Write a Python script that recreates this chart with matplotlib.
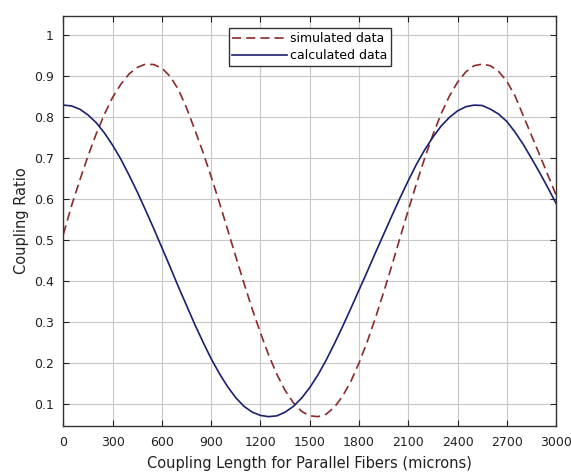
import matplotlib
matplotlib.use("Agg")
import matplotlib.pyplot as plt

plt.rcParams['font.family'] = ['DejaVu Sans']

length_um = list(range(0, 3001, 50))

simulated = [0.515, 0.585, 0.647, 0.706, 0.760, 0.808, 0.849, 0.881, 0.906, 0.922,
             0.930, 0.929, 0.920, 0.900, 0.868, 0.823, 0.770, 0.715, 0.655, 0.592,
             0.526, 0.460, 0.395, 0.332, 0.274, 0.220, 0.173, 0.134, 0.104, 0.083,
             0.072, 0.070, 0.076, 0.093, 0.120, 0.156, 0.201, 0.253, 0.311, 0.374,
             0.439, 0.507, 0.574, 0.639, 0.701, 0.758, 0.809, 0.852, 0.886, 0.911,
             0.926, 0.930, 0.926, 0.912, 0.888, 0.852, 0.804, 0.756, 0.708, 0.659,
             0.610]

calculated = [0.830, 0.828, 0.820, 0.806, 0.787, 0.762, 0.732, 0.698, 0.659, 0.618,
              0.574, 0.529, 0.482, 0.435, 0.387, 0.341, 0.295, 0.252, 0.211, 0.175,
              0.143, 0.116, 0.095, 0.081, 0.073, 0.070, 0.072, 0.081, 0.095, 0.115,
              0.141, 0.172, 0.208, 0.248, 0.290, 0.334, 0.379, 0.424, 0.470, 0.515,
              0.560, 0.604, 0.646, 0.686, 0.721, 0.752, 0.779, 0.800, 0.816, 0.826,
              0.830, 0.829, 0.820, 0.808, 0.790, 0.764, 0.734, 0.700, 0.665, 0.628,
              0.590]

x_ticks = list(range(0, 3001, 300))
y_ticks = [0.1, 0.2, 0.3, 0.4, 0.5, 0.6, 0.7, 0.8, 0.9, 1.0]
y_tick_labels = ["0.1", "0.2", "0.3", "0.4", "0.5", "0.6", "0.7", "0.8", "0.9", "1"]

fig = plt.figure(figsize=(5.71, 4.75), dpi=100)
ax = fig.add_axes([0.111, 0.103, 0.863, 0.863])

ax.plot(length_um, simulated, color="#8a2a2a", lw=1.2, dashes=(5.5, 3),
        label="simulated data")
ax.plot(length_um, calculated, color="#1c1f6e", lw=1.2, label="calculated data")

ax.set_xlim(0, 3000)
ax.set_ylim(0.047, 1.047)
ax.set_xticks(x_ticks)
ax.set_yticks(y_ticks)
ax.set_yticklabels(y_tick_labels)
ax.tick_params(direction="in", top=True, right=True, labelsize=9,
               length=4, width=0.8, colors="#222222", pad=7)
ax.grid(True, color="#c8c8c8", lw=0.8)
ax.set_axisbelow(True)
for sp in ax.spines.values():
    sp.set_color("#333333")
    sp.set_linewidth(1.0)

ax.set_xlabel("Coupling Length for Parallel Fibers (microns)", fontsize=10.5,
              color="#222222", labelpad=5)
ax.set_ylabel("Coupling Ratio", fontsize=10.5, color="#222222", labelpad=3)

leg = ax.legend(loc="upper center", bbox_to_anchor=(0.5, 0.97), fontsize=9,
                handlelength=4.4, fancybox=False, framealpha=1,
                edgecolor="#333333", borderpad=0.3, labelspacing=0.3,
                handletextpad=0.2, borderaxespad=0)
leg.get_frame().set_linewidth(1.0)

fig.savefig("out.png", dpi=100)
